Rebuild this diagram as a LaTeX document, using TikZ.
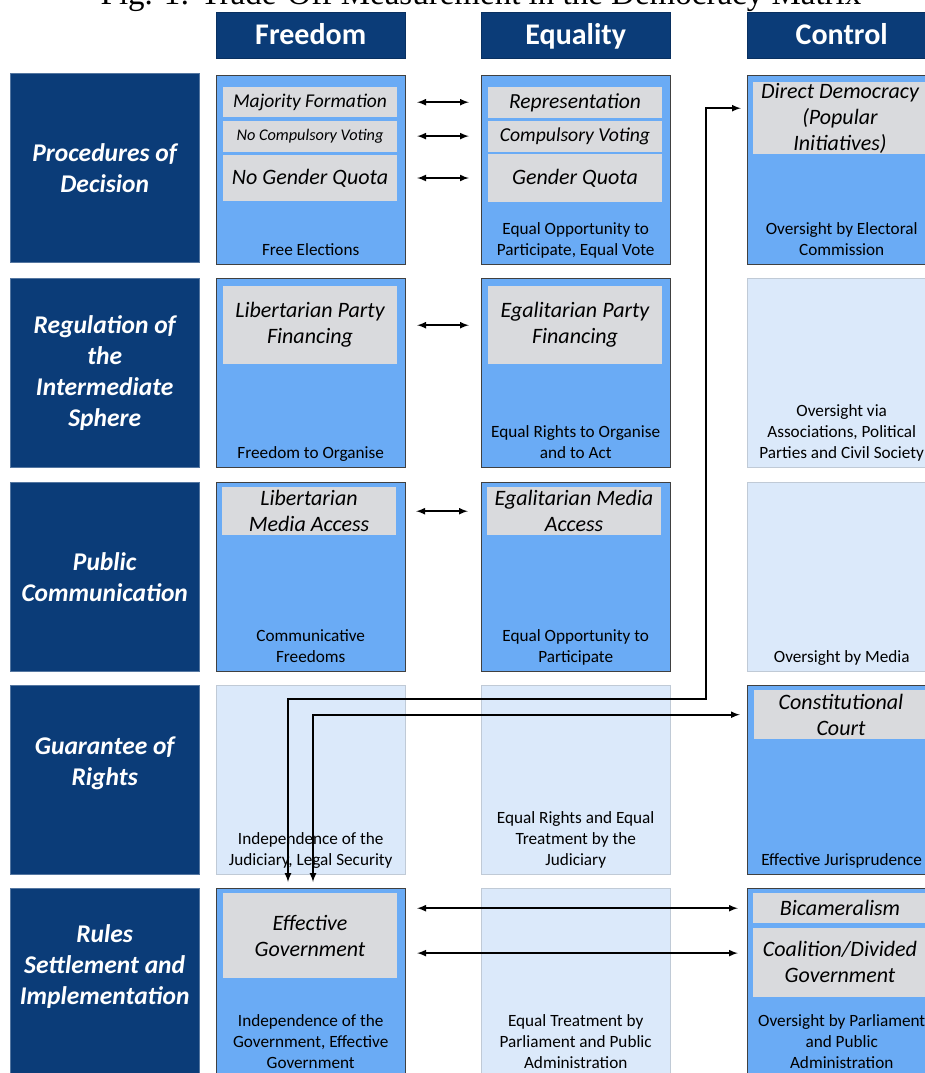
\documentclass[tikz,border=0pt]{standalone}
\usepackage{fontspec}
\setmainfont{Carlito}
\newfontfamily\titlefont{Liberation Serif}
\usetikzlibrary{positioning}

\definecolor{navy}{RGB}{11,60,120}
\definecolor{cellblue}{RGB}{106,171,245}
\definecolor{paleblue}{RGB}{219,233,250}
\definecolor{itemgrey}{RGB}{217,218,221}
\definecolor{paleline}{RGB}{192,202,214}
\definecolor{cellline}{RGB}{64,64,64}

\tikzset{
  head/.style={fill=navy, draw=navy!80!black, text=white, font=\bfseries\fontsize{30}{34}\selectfont,
    text height=22pt, text depth=3pt, minimum width=189pt, minimum height=46pt, anchor=north west, inner sep=0pt},
  rowlabel/.style={fill=navy, draw=navy!70!white, text=white, font=\bfseries\itshape\fontsize{25.5}{31}\selectfont,
    align=center, minimum width=189pt, minimum height=189pt, anchor=north west, inner sep=0pt},
  cell/.style={fill=cellblue, draw=cellline, minimum width=189pt, minimum height=189pt, anchor=north west, inner sep=0pt},
  palecell/.style={cell, fill=paleblue, draw=paleline},
  item/.style={fill=itemgrey, font=\itshape\fontsize{22}{26}\selectfont, align=center,
    minimum width=174pt, inner sep=0pt, anchor=north},
  foot/.style={font=\fontsize{17.2}{21}\selectfont, align=center, anchor=south, inner sep=0pt, text depth=4pt},
  link/.style={line width=2pt, latex-latex},
}

\begin{document}
\begin{tikzpicture}[x=1pt, y=-1pt]
\useasboundingbox (0,0) rectangle (925,1073);

\node[font=\titlefont\fontsize{33}{35}\selectfont, anchor=base] (title) at (481,5)
  {Fig. 1: Trade-Off Measurement in the Democracy Matrix};

% column heads
\node[head] (hfree) at (216,12) {Freedom};
\node[head] (hequal) at (481,12) {Equality};
\node[head] (hctrl) at (747,12) {Control};

% row heads
\node[rowlabel] (row1) at (10,73) {Procedures of\\Decision};
\node[rowlabel] (row2) at (10,278) {Regulation of\\the\\Intermediate\\Sphere};
\node[rowlabel] (row3) at (10,482) {Public\\Communication};
\node[rowlabel, text depth=38pt] (row4) at (10,685) {Guarantee of\\Rights};
\node[rowlabel, text depth=37pt] (row5) at (10,888) {Rules\\Settlement and\\Implementation};

% procedures of decision
\node[cell] (free1) at (216,75) {};
\node[cell] (equal1) at (481,75) {};
\node[cell] (ctrl1) at (747,75) {};
\node[item, minimum height=30pt, font=\itshape\fontsize{19.5}{22}\selectfont] (majority) at (310,87) {Majority Formation};
\node[item, minimum height=31pt, font=\itshape\fontsize{16.3}{19}\selectfont, below=3pt of majority] (nocompulsory) {No Compulsory Voting};
\node[item, minimum height=46pt, below=3pt of nocompulsory] (nogender) {No Gender Quota};
\node[item, minimum height=31pt, font=\itshape\fontsize{21.5}{24}\selectfont] (representation) at (575,87) {Representation};
\node[item, minimum height=31pt, font=\itshape\fontsize{19.7}{22}\selectfont, below=2pt of representation] (compulsory) {Compulsory Voting};
\node[item, minimum height=48pt, below=2pt of compulsory] (gender) {Gender Quota};
\node[item, minimum height=72pt] (directdem) at (840,82) {Direct Democracy\\(Popular\\Initiatives)};
\node[foot] (fe1) at ([yshift=5pt]free1.south) {Free Elections};
\node[foot] (eq1) at ([yshift=5pt]equal1.south) {Equal Opportunity to\\Participate, Equal Vote};
\node[foot] (ct1) at ([yshift=5pt]ctrl1.south) {Oversight by Electoral\\Commission};

% regulation of the intermediate sphere
\node[cell] (free2) at (216,278) {};
\node[cell] (equal2) at (481,278) {};
\node[palecell] (ctrl2) at (747,278) {};
\node[item, minimum height=78pt] (libparty) at (310,286) {Libertarian Party\\Financing};
\node[item, minimum height=78pt] (egalparty) at (575,286) {Egalitarian Party\\Financing};
\node[foot] (fe2) at ([yshift=5pt]free2.south) {Freedom to Organise};
\node[foot] (eq2) at ([yshift=5pt]equal2.south) {Equal Rights to Organise\\and to Act};
\node[foot] (ct2) at ([yshift=5pt]ctrl2.south) {Oversight via\\Associations, Political\\Parties and Civil Society};

% public communication
\node[cell] (free3) at (216,482) {};
\node[cell] (equal3) at (481,482) {};
\node[palecell] (ctrl3) at (747,482) {};
\node[item, minimum height=48pt] (libmedia) at (309,487) {Libertarian\\Media Access};
\node[item, minimum height=48pt] (egalmedia) at (574,487) {Egalitarian Media\\Access};
\node[foot] (fe3) at ([yshift=5pt]free3.south) {Communicative\\Freedoms};
\node[foot] (eq3) at ([yshift=5pt]equal3.south) {Equal Opportunity to\\Participate};
\node[foot] (ct3) at ([yshift=5pt]ctrl3.south) {Oversight by Media};

% guarantee of rights
\node[palecell] (free4) at (216,685) {};
\node[palecell] (equal4) at (481,685) {};
\node[cell] (ctrl4) at (747,685) {};
\node[item, minimum height=49pt] (constcourt) at (841,690) {Constitutional\\Court};
\node[foot] (fe4) at ([yshift=5pt]free4.south) {Independence of the\\Judiciary, Legal Security};
\node[foot] (eq4) at ([yshift=5pt]equal4.south) {Equal Rights and Equal\\Treatment by the\\Judiciary};
\node[foot] (ct4) at ([yshift=5pt]ctrl4.south) {Effective Jurisprudence};

% rules settlement and implementation
\node[cell] (free5) at (216,888) {};
\node[palecell] (equal5) at (481,888) {};
\node[cell] (ctrl5) at (747,888) {};
\node[item, minimum height=85pt] (effgov) at (310,893) {Effective\\Government};
\node[item, minimum height=30pt] (bicam) at (840,893) {Bicameralism};
\node[item, minimum height=69pt, below=4pt of bicam] (coalition) {Coalition/Divided\\Government};
\node[foot] (fe5) at ([yshift=5pt]free5.south) {Independence of the\\Government, Effective\\Government};
\node[foot] (eq5) at ([yshift=5pt]equal5.south) {Equal Treatment by\\Parliament and Public\\Administration};
\node[foot] (ct5) at ([yshift=5pt]ctrl5.south) {Oversight by Parliament\\and Public\\Administration};

% trade-offs
\draw[link, shorten <=20pt, shorten >=19pt] (majority.east) -- (majority.east -| representation.west);
\draw[link, shorten <=20pt, shorten >=19pt] (nocompulsory.east) -- (nocompulsory.east -| compulsory.west);
\draw[link, shorten <=20pt, shorten >=19pt] (nogender.east) -- (nogender.east -| gender.west);
\draw[link, shorten <=20pt, shorten >=19pt] (libparty.east) -- (libparty.east -| egalparty.west);
\draw[link, shorten <=20pt, shorten >=19pt] (libmedia.east) -- (libmedia.east -| egalmedia.west);
\coordinate (coalin) at ([yshift=9pt]coalition.west);
\draw[link, shorten <=20pt, shorten >=15pt] (effgov.east |- bicam.west) -- (bicam.west);
\draw[link, shorten <=20pt, shorten >=15pt] (effgov.east |- coalin) -- (coalin);

\coordinate (bend) at (706,699);
\draw[link, shorten <=12pt, shorten >=11pt] ([yshift=10pt]directdem.west) -| (bend) -| ([xshift=-22pt]effgov.north);
\draw[link, shorten <=14pt, shorten >=11pt] (constcourt.west) -| ([xshift=3pt]effgov.north);
\end{tikzpicture}
\end{document}
